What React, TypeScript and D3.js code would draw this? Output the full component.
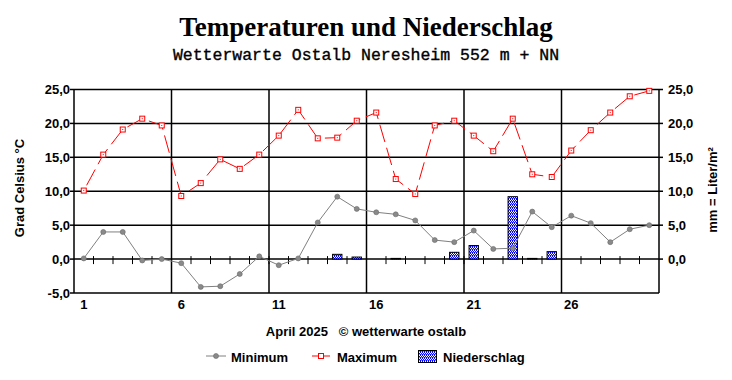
import React from "react";
import * as d3 from "d3";

const days = d3.range(1, 31);
const maxTemp = [10.1, 15.4, 19.1, 20.7, 19.7, 9.3, 11.2, 14.7, 13.3, 15.4, 18.2, 22.0, 17.8, 17.9, 20.4, 21.6, 11.8, 9.6, 19.7, 20.4, 18.2, 15.9, 20.7, 12.5, 12.1, 16.0, 19.0, 21.6, 24.0, 24.8];
const minTemp = [0.1, 4.0, 4.0, -0.2, 0.0, -0.6, -4.1, -4.0, -2.2, 0.4, -0.9, 0.1, 5.4, 9.2, 7.4, 6.9, 6.6, 5.7, 2.8, 2.5, 4.2, 1.5, 1.6, 7.0, 4.7, 6.4, 5.3, 2.5, 4.4, 5.0];
const precip = [0, 0, 0, 0, 0, 0, 0, 0, 0, 0, 0, 0, 0, 0.7, 0.3, 0, 0.1, 0, 0, 1.0, 2.0, 0, 9.2, 0.1, 1.1, 0, 0, 0, 0, 0];
const leftTicks = [-5, 0, 5, 10, 15, 20, 25];
const rightTicks = [0, 5, 10, 15, 20, 25];
const dayLabels = [1, 6, 11, 16, 21, 26];
const gridDays = [5.5, 10.5, 15.5, 20.5, 25.5];

const W = 732, H = 380;
const L = 74, R = 659, T = 89.5, B = 293;
const sans = "'Liberation Sans', Arial, sans-serif";

export default function App() {
  const x = d3.scaleLinear().domain([0.5, 30.5]).range([L, R]);
  const y = d3.scaleLinear().domain([-5, 25]).range([B, T]);
  const bw = (x(1) - x(0)) * 0.48;
  const lineMax = d3.line<number>().x((_, i) => x(days[i])).y((v) => y(v));
  const lineMin = d3.line<number>().x((_, i) => x(days[i])).y((v) => y(v));
  const fmt = (v: number) => (v < 0 ? "-" : "") + Math.abs(v).toFixed(1).replace(".", ",");

  return (
    <svg width={W} height={H} style={{ position: "absolute", left: 0, top: 0, background: "#fff" }}>
      <defs>
        <pattern id="dots" patternUnits="userSpaceOnUse" width={2} height={3}>
          <rect width={2} height={3} fill="#0000ff" />
          <rect x={1} y={1} width={1} height={1} fill="#ffffff" />
          <rect x={0} y={2} width={1} height={1} fill="#ffffff" />
          <rect x={1} y={0} width={1} height={1} fill="#9a9aff" />
        </pattern>
      </defs>
      <text x={366} y={36} textAnchor="middle" fontFamily="'Liberation Serif', 'Times New Roman', serif" fontWeight="bold" fontSize={27}>
        Temperaturen und Niederschlag
      </text>
      <text x={366} y={60} textAnchor="middle" fontFamily="'Liberation Mono', 'Courier New', monospace" fontSize={16.5} stroke="#000" strokeWidth={0.35}>
        Wetterwarte Ostalb Neresheim 552 m + NN
      </text>

      {/* grid */}
      {leftTicks.map((t) => (
        <line key={"h" + t} x1={L} x2={R} y1={y(t)} y2={y(t)} stroke="#000" strokeWidth={1.5} />
      ))}
      {gridDays.map((d) => (
        <line key={"v" + d} x1={x(d)} x2={x(d)} y1={T} y2={B} stroke="#000" strokeWidth={1.5} />
      ))}
      <line x1={L} x2={L} y1={T} y2={B} stroke="#000" strokeWidth={1.5} />
      <line x1={R} x2={R} y1={T} y2={B} stroke="#000" strokeWidth={1.5} />
      {leftTicks.map((t) => (
        <g key={"lt" + t}>
          <line x1={L - 4} x2={L} y1={y(t)} y2={y(t)} stroke="#000" strokeWidth={1.5} />
          <text x={L - 4} y={y(t) + 4.5} textAnchor="end" fontFamily={sans} fontWeight="bold" fontSize={13}>{fmt(t)}</text>
        </g>
      ))}
      {rightTicks.map((t) => (
        <g key={"rt" + t}>
          <line x1={R} x2={R + 4} y1={y(t)} y2={y(t)} stroke="#000" strokeWidth={1.5} />
          <text x={R + 9} y={y(t) + 4.5} textAnchor="start" fontFamily={sans} fontWeight="bold" fontSize={13}>{fmt(t)}</text>
        </g>
      ))}
      {d3.range(1.5, 30.5, 1).map((d) => (
        <line key={"zt" + d} x1={x(d)} x2={x(d)} y1={y(0) - 3} y2={y(0) + 5} stroke="#000" strokeWidth={1} />
      ))}
      {dayLabels.map((d) => (
        <text key={"dl" + d} x={x(d)} y={309} textAnchor="middle" fontFamily={sans} fontWeight="bold" fontSize={13}>{d}</text>
      ))}

      {/* bars */}
      {precip.map((v, i) =>
        v > 0 ? (
          <rect key={"b" + i} x={x(days[i]) - bw / 2} y={y(v)} width={bw} height={y(0) - y(v)} fill="url(#dots)" stroke="#000" strokeWidth={1} />
        ) : null
      )}

      {/* min line */}
      <path d={lineMin(minTemp) || ""} fill="none" stroke="#808080" strokeWidth={1} />
      {minTemp.map((v, i) => (
        <circle key={"mn" + i} cx={x(days[i])} cy={y(v)} r={2.5} fill="#8a8a8a" stroke="#6a6a6a" strokeWidth={0.6} />
      ))}

      {/* max line */}
      <path d={lineMax(maxTemp) || ""} fill="none" stroke="#ff0000" strokeWidth={1} strokeDasharray="18,6" strokeDashoffset={-6} />
      {maxTemp.map((v, i) => (
        <g key={"mx" + i}>
          <rect x={x(days[i]) - 2.5} y={y(v) - 2.5} width={5} height={5} fill="#fff" stroke="#ff0000" strokeWidth={1} />
          <rect x={x(days[i]) - 0.5} y={y(v) - 0.5} width={1} height={1} fill="#ff0000" />
        </g>
      ))}

      {/* axis titles */}
      <text transform="translate(24,188) rotate(-90)" textAnchor="middle" fontFamily={sans} fontWeight="bold" fontSize={13}>Grad Celsius °C</text>
      <text transform="translate(717,190) rotate(-90)" textAnchor="middle" fontFamily={sans} fontWeight="bold" fontSize={13}>mm = Liter/m²</text>

      <text x={366} y={336} textAnchor="middle" fontFamily={sans} fontWeight="bold" fontSize={13} xmlSpace="preserve">April 2025   © wetterwarte ostalb</text>

      {/* legend */}
      <line x1={206} x2={226} y1={356} y2={356} stroke="#808080" strokeWidth={1} />
      <circle cx={216} cy={356} r={2.5} fill="#8a8a8a" stroke="#6a6a6a" strokeWidth={0.6} />
      <text x={231} y={362} fontFamily={sans} fontWeight="bold" fontSize={13}>Minimum</text>
      <line x1={312} x2={330} y1={356} y2={356} stroke="#ff0000" strokeWidth={1} />
      <rect x={318.5} y={353.5} width={5} height={5} fill="#fff" stroke="#ff0000" strokeWidth={1} />
      <text x={337} y={362} fontFamily={sans} fontWeight="bold" fontSize={13}>Maximum</text>
      <rect x={418.5} y={350.5} width={18} height={12} fill="url(#dots)" stroke="#000" strokeWidth={1} />
      <text x={443} y={362} fontFamily={sans} fontWeight="bold" fontSize={13}>Niederschlag</text>
    </svg>
  );
}
